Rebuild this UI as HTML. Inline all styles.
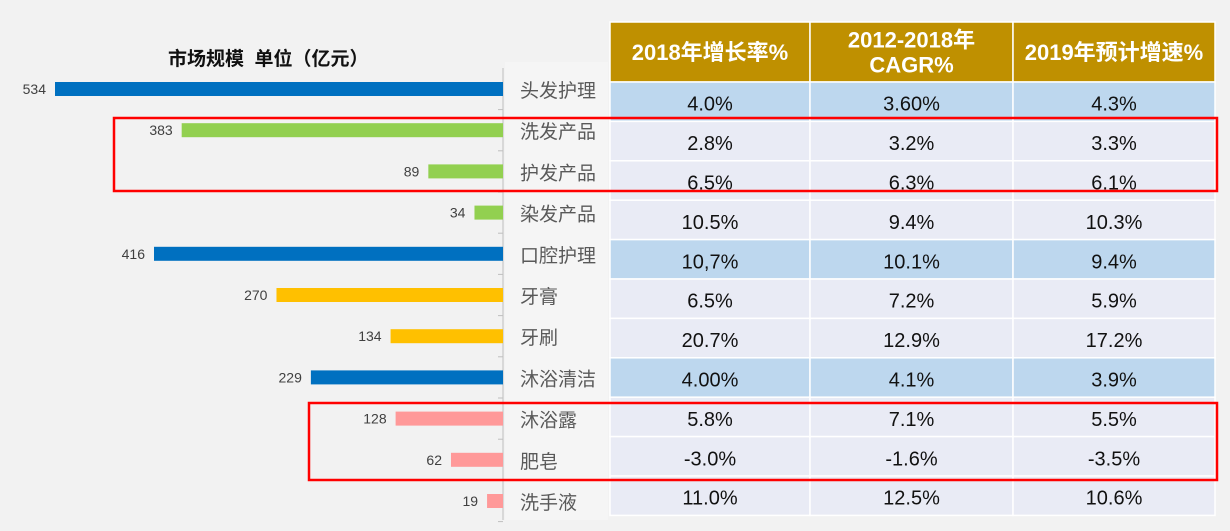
<!DOCTYPE html>
<html><head><meta charset="utf-8"><style>
body{margin:0;background:#f2f2f2;font-family:"Liberation Sans","Noto Sans CJK SC",sans-serif;}
#wrap{position:relative;width:1230px;height:531px;overflow:hidden;background:#f2f2f2;}
.abs{position:absolute;}
</style></head><body>
<div id="wrap">
<div class="abs" style="left:168px;top:44px;font-size:19px;font-weight:bold;color:#111;">市场规模&nbsp; 单位（亿元）</div>
<svg id="svg" class="abs" style="left:0;top:0" width="1230" height="531"></svg>
</div>
<script>
const categories=["头发护理","洗发产品","护发产品","染发产品","口腔护理","牙膏","牙刷","沐浴清洁","沐浴露","肥皂","洗手液"];
const marketSize=[534,383,89,34,416,270,134,229,128,62,19];
const barColors=["#0070c0","#92d050","#92d050","#92d050","#0070c0","#ffc000","#ffc000","#0070c0","#ff9999","#ff9999","#ff9999"];
const growth2018=["4.0%","2.8%","6.5%","10.5%","10,7%","6.5%","20.7%","4.00%","5.8%","-3.0%","11.0%"];
const cagr=["3.60%","3.2%","6.3%","9.4%","10.1%","7.2%","12.9%","4.1%","7.1%","-1.6%","12.5%"];
const forecast2019=["4.3%","3.3%","6.1%","10.3%","9.4%","5.9%","17.2%","3.9%","5.5%","-3.5%","10.6%"];
const headers=["2018年增长率%","2012-2018年\nCAGR%","2019年预计增速%"];
const NS="http://www.w3.org/2000/svg";
const svg=document.getElementById('svg');
function mk(t,a,p){const e=document.createElementNS(NS,t);for(const k in a)e.setAttribute(k,a[k]);(p||svg).appendChild(e);return e;}
const axisX=503,scale=448/534;
const xPos=v=>axisX-v*scale;
const rowY=i=>89+i*41.2;
let bg=mk('rect',{x:505,y:62,width:103,height:458,fill:'#f5f5f5'});


mk('line',{x1:axisX,y1:68,x2:axisX,y2:520,stroke:'#bfbfbf','stroke-width':1});
const tx=[610,810,1013,1215],ty0=22,th=60,rh=39.4;
for(let c=0;c<3;c++){
 let r=mk('rect',{x:tx[c],y:ty0,width:tx[c+1]-tx[c],height:th,fill:'#bf9000',stroke:'#fff','stroke-width':1.5});
 
 
 const lines=headers[c].split('\n');
 lines.forEach((l,j)=>{let t=mk('text',{x:(tx[c]+tx[c+1])/2,y:ty0+th/2+8+(j-(lines.length-1)/2)*25,'text-anchor':'middle','font-size':22,'font-weight':'bold',fill:'#fff'});t.textContent=l;
 
 });
}
const cols=[growth2018,cagr,forecast2019];
categories.forEach((cat,i)=>{
 const y=rowY(i);
 const len=marketSize[i]*scale;
 let b=mk('rect',{x:xPos(marketSize[i]),y:y-7,width:len,height:14,fill:barColors[i]});
 
 
 let v=mk('text',{x:xPos(marketSize[i])-9,y:y+5,'text-anchor':'end','font-size':14,fill:'#404040'});v.textContent=marketSize[i];
 
 
 let c=mk('text',{x:520,y:y+8,'font-size':19,fill:'#595959'});c.textContent=cat;
 
 
 mk('line',{x1:axisX-5,y1:y+20.6,x2:axisX,y2:y+20.6,stroke:'#bfbfbf'});
 const ry=ty0+th+i*rh;
 const blue=barColors[i]==='#0070c0';
 for(let k=0;k<3;k++){
  let r=mk('rect',{x:tx[k],y:ry,width:tx[k+1]-tx[k],height:rh,fill:blue?'#bdd7ee':'#e9ebf5',stroke:'#fff','stroke-width':1.5});
  
  
  let t=mk('text',{x:(tx[k]+tx[k+1])/2,y:ry+rh/2+9,'text-anchor':'middle','font-size':20,fill:'#111'});t.textContent=cols[k][i];
  
  
 }
});
let h1=mk('rect',{x:114,y:118,width:1103,height:73,fill:'none',stroke:'#ff0000','stroke-width':2.5});


let h2=mk('rect',{x:309,y:403,width:908,height:77,fill:'none',stroke:'#ff0000','stroke-width':2.5});


</script>
</body></html>
